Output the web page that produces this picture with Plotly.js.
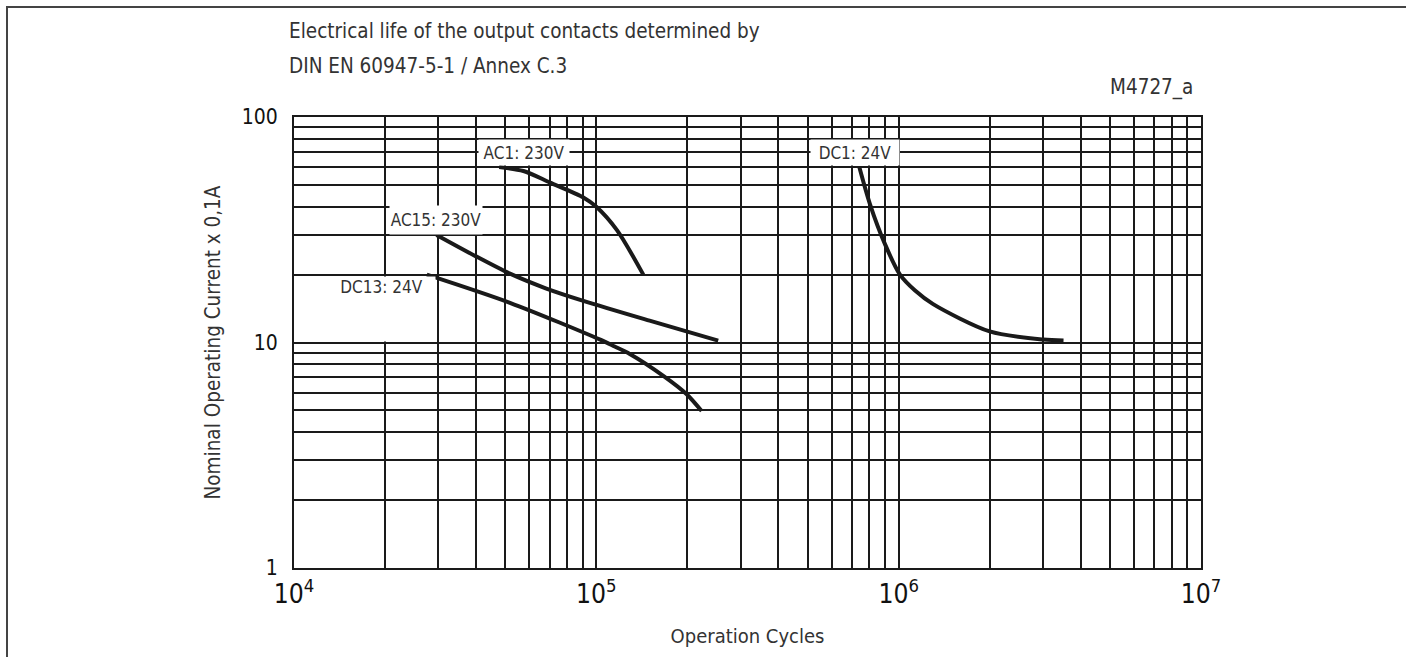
<!DOCTYPE html>
<html>
<head>
<meta charset="utf-8">
<script src="https://cdn.plot.ly/plotly-3.0.1.min.js"></script>
<style>
  html, body { margin: 0; padding: 0; background: #fff; }
  #wrap { position: relative; width: 1406px; height: 657px; overflow: hidden; }
  #chart { position: absolute; left: 0; top: 0; width: 1406px; height: 657px; }
  #frame { position: absolute; left: 6px; top: 6px; width: 1410px; height: 660px;
           border-top: 2px solid #444; border-left: 2px solid #444; pointer-events: none; }
</style>
</head>
<body>
<div id="wrap">
  <div id="chart"></div>
  <div id="frame"></div>
</div>
<script>
// ---- data ----
const seriesNames = ["AC1: 230V", "AC15: 230V", "DC13: 24V", "DC1: 24V"];

const ac1Cycles  = [47700, 57400, 70300, 90600, 100000, 117000, 143000];
const ac1Current = [60, 57.6, 51.2, 44, 40, 31.5, 20];

const ac15Cycles  = [29600, 40000, 51800, 68000, 90600, 150000, 253000];
const ac15Current = [30, 24.1, 20.2, 17.4, 15.3, 12.5, 10.2];

const dc13Cycles  = [27500, 51800, 103000, 115000, 129000, 167000, 199000, 223000];
const dc13Current = [20, 15, 10.3, 9.6, 8.9, 7.1, 5.9, 4.97];

const dc1Cycles  = [741000, 804000, 901000, 1010000, 1133000, 1300000, 2000000, 3010000, 3510000];
const dc1Current = [60, 41, 27.3, 20, 17.0, 14.8, 11.2, 10.3, 10.2];

const FONT = "'Liberation Sans Narrow', 'Arial Narrow', 'DejaVu Sans Condensed', sans-serif";
const INK = "#1a1a1a";

const lineStyle = { color: INK, width: 4, shape: "spline", smoothing: 0.8 };
const traces = [
  { x: ac1Cycles,  y: ac1Current,  name: seriesNames[0] },
  { x: ac15Cycles, y: ac15Current, name: seriesNames[1] },
  { x: dc13Cycles, y: dc13Current, name: seriesNames[2] },
  { x: dc1Cycles,  y: dc1Current,  name: seriesNames[3] }
].map(t => Object.assign(t, { type: "scatter", mode: "lines", line: lineStyle, hoverinfo: "x+y+name" }));

const labelFont = { family: FONT, size: 17, color: "#333" };
function seriesLabel(i, x, y, w, h, valign) {
  return {
    xref: "x", yref: "y", x: x, y: y, xanchor: "left", yanchor: "top",
    text: seriesNames[i], showarrow: false, bgcolor: "#fff",
    width: w, height: h, borderpad: 0, align: "center", valign: valign || "middle",
    font: labelFont
  };
}

const minorGrid = { dtick: "D1", showgrid: true, gridcolor: INK, gridwidth: 2, ticks: "" };

const layout = {
  width: 1406, height: 657,
  margin: { l: 294, r: 205, t: 117, b: 89, autoexpand: false },
  paper_bgcolor: "#fff", plot_bgcolor: "#fff",
  showlegend: false,
  font: { family: FONT, color: "#222" },
  xaxis: {
    type: "log", range: [4, 7],
    tickmode: "linear", tick0: 0, dtick: 1,
    exponentformat: "power", showexponent: "all",
    ticks: "", showgrid: true, gridcolor: INK, gridwidth: 2,
    minor: minorGrid,
    showline: true, linecolor: INK, linewidth: 2, mirror: true,
    zeroline: false, tickfont: { family: FONT, size: 21, color: "#111" },
    ticklabelstandoff: 3,
    title: { text: "Operation Cycles", font: { family: FONT, size: 20, color: "#333" }, standoff: 21 },
    automargin: false
  },
  yaxis: {
    type: "log", range: [0, 2],
    tickmode: "linear", tick0: 0, dtick: 1,
    exponentformat: "none",
    ticks: "", showgrid: true, gridcolor: INK, gridwidth: 2,
    minor: minorGrid,
    showline: true, linecolor: INK, linewidth: 2, mirror: true,
    zeroline: false, tickfont: { family: FONT, size: 21, color: "#111" },
    ticklabelstandoff: 10,
    title: { text: "Nominal Operating Current x 0,1A", font: { family: FONT, size: 20.5, color: "#333" }, standoff: 16 },
    automargin: false
  },
  annotations: [
    { xref: "paper", yref: "paper", x: -0.0077, y: 1.1907, xanchor: "left", yanchor: "middle",
      text: "Electrical life of the output contacts determined by", showarrow: false,
      font: { family: FONT, size: 20.5, color: "#333" } },
    { xref: "paper", yref: "paper", x: -0.0077, y: 1.113, xanchor: "left", yanchor: "middle",
      text: "DIN EN 60947-5-1 / Annex C.3", showarrow: false,
      font: { family: FONT, size: 20.5, color: "#333" } },
    { xref: "paper", yref: "paper", x: 0.9934, y: 1.0665, xanchor: "right", yanchor: "middle",
      text: "M4727_a", showarrow: false,
      font: { family: FONT, size: 20.5, color: "#333" } },
    seriesLabel(0, 4.609, 1.902, 90, 25),
    seriesLabel(1, 4.313, 1.610, 92, 28),
    seriesLabel(2, 4.109, 1.297, 107, 64, "top"),
    seriesLabel(3, 5.707, 1.902, 88, 25)
  ]
};

Plotly.newPlot("chart", traces, layout, { displayModeBar: false, staticPlot: true });
</script>
</body>
</html>
